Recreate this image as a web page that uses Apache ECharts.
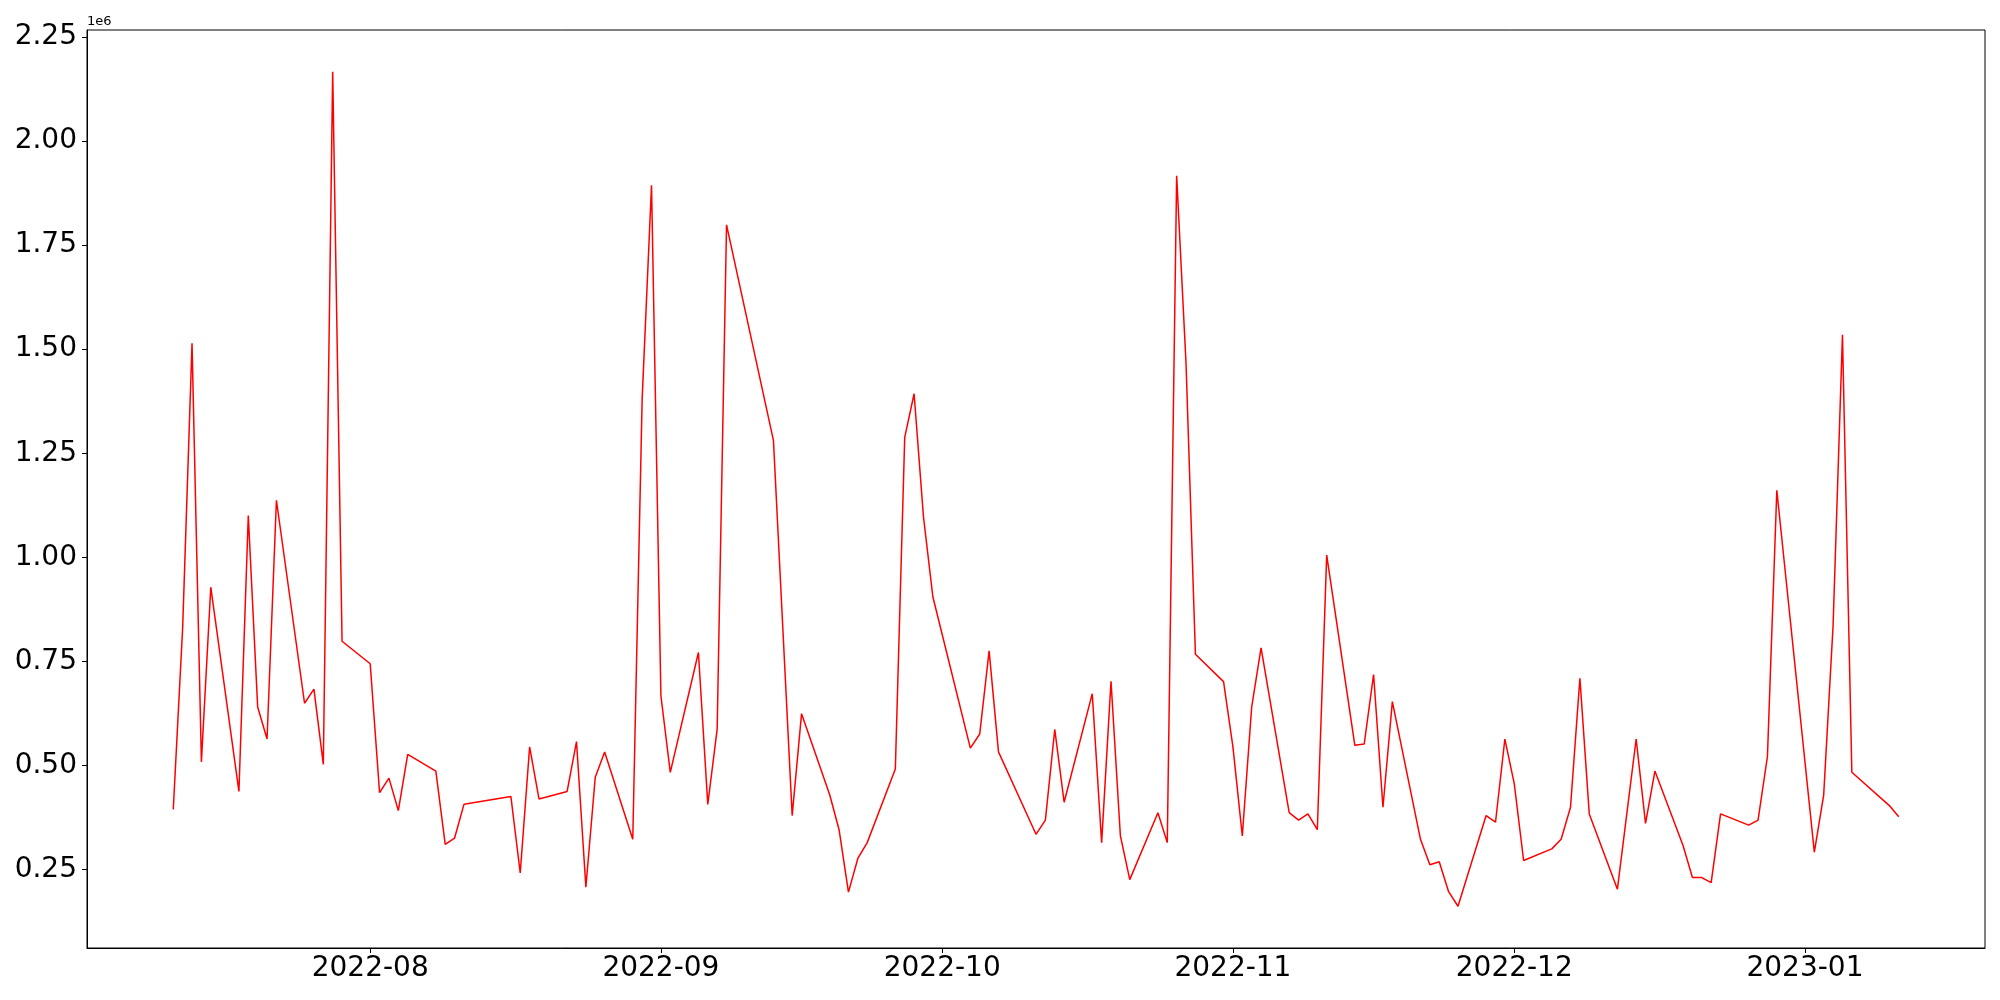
<!DOCTYPE html>
<html>
<head>
<meta charset="utf-8">
<script src="https://cdn.jsdelivr.net/npm/echarts@6/dist/echarts.min.js"></script>
<style>
html,body{margin:0;padding:0;background:#fff;}
#chart{width:2000px;height:1000px;}
</style>
</head>
<body>
<div id="chart"></div>
<script>
const dates = [
"2022-07-11","2022-07-12","2022-07-13","2022-07-14","2022-07-15",
"2022-07-18","2022-07-19","2022-07-20","2022-07-21","2022-07-22",
"2022-07-25","2022-07-26","2022-07-27","2022-07-28","2022-07-29",
"2022-08-01","2022-08-02","2022-08-03","2022-08-04","2022-08-05",
"2022-08-08","2022-08-09","2022-08-10","2022-08-11",
"2022-08-16","2022-08-17","2022-08-18","2022-08-19",
"2022-08-22","2022-08-23","2022-08-24","2022-08-25","2022-08-26",
"2022-08-29","2022-08-30","2022-08-31","2022-09-01","2022-09-02",
"2022-09-05","2022-09-06","2022-09-07","2022-09-08",
"2022-09-13","2022-09-15","2022-09-16",
"2022-09-19","2022-09-20","2022-09-21","2022-09-22","2022-09-23",
"2022-09-26","2022-09-27","2022-09-28","2022-09-29","2022-09-30",
"2022-10-04","2022-10-05","2022-10-06","2022-10-07",
"2022-10-11","2022-10-12","2022-10-13","2022-10-14",
"2022-10-17","2022-10-18","2022-10-19","2022-10-20","2022-10-21",
"2022-10-24","2022-10-25","2022-10-26","2022-10-27","2022-10-28",
"2022-10-31","2022-11-01","2022-11-02","2022-11-03","2022-11-04",
"2022-11-07","2022-11-08","2022-11-09","2022-11-10","2022-11-11",
"2022-11-14","2022-11-15","2022-11-16","2022-11-17","2022-11-18",
"2022-11-21","2022-11-22","2022-11-23","2022-11-24","2022-11-25",
"2022-11-28","2022-11-29","2022-11-30","2022-12-01","2022-12-02",
"2022-12-05","2022-12-06","2022-12-07","2022-12-08","2022-12-09",
"2022-12-12","2022-12-14","2022-12-15","2022-12-16",
"2022-12-19","2022-12-20","2022-12-21","2022-12-22","2022-12-23",
"2022-12-26","2022-12-27","2022-12-28","2022-12-29",
"2023-01-02","2023-01-03","2023-01-04","2023-01-05","2023-01-06",
"2023-01-10","2023-01-11"
];
const values = [
394000,830000,1514000,508000,928000,
437000,1100000,640000,563000,1137000,
649000,683000,502000,2167000,798000,
744000,434000,469000,391000,526000,
486000,310000,325000,406000,
425000,241000,544000,419000,
437000,557000,207000,471000,532000,
322000,1380000,1894000,667000,483000,
771000,406000,587000,1799000,
1281000,379000,624000,
429000,345000,195000,276000,314000,
491000,1288000,1393000,1097000,905000,
541000,575000,775000,532000,
334000,368000,586000,411000,
672000,314000,702000,330000,225000,
386000,314000,1917000,1465000,767000,
701000,544000,330000,640000,782000,
386000,368000,383000,345000,1005000,
548000,551000,718000,399000,653000,
322000,261000,268000,196000,161000,
379000,363000,563000,456000,271000,
299000,322000,399000,709000,383000,
202000,563000,360000,486000,
307000,230000,230000,218000,383000,
356000,368000,521000,1161000,
291000,429000,836000,1535000,483000,
403000,376000
];
const yTicks = [250000,500000,750000,1000000,1250000,1500000,1750000,2000000,2250000];
const xTickLabels = ["2022-08","2022-09","2022-10","2022-11","2022-12","2023-01"];

function toTs(s){ const p=s.split('-').map(Number); return Date.UTC(p[0],p[1]-1,p[2]||1); }
const xTicks = xTickLabels.map(toTs);
const seriesData = dates.map((d,i)=>[toTs(d), values[i]]);

const t0 = toTs(dates[0]), t1 = toTs(dates[dates.length-1]);
const tSpan = t1 - t0;
const vMin = Math.min(...values), vMax = Math.max(...values);
const vSpan = vMax - vMin;

const font = 'DejaVu Sans';
const chart = echarts.init(document.getElementById('chart'), null, {renderer:'canvas'});
chart.setOption({
  animation:false,
  backgroundColor:'#fff',
  grid:{left:87, right:15, top:30, bottom:52, show:true, borderColor:'#000', borderWidth:1, containLabel:false},
  xAxis:{
    type:'value',
    min:t0 - 0.05*tSpan,
    max:t1 + 0.05*tSpan,
    scale:true,
    splitLine:{show:false},
    axisLine:{show:true, lineStyle:{color:'#000', width:1}},
    axisTick:{show:true, length:5, lineStyle:{color:'#000', width:1}, customValues:xTicks},
    axisLabel:{
      customValues:xTicks,
      color:'#000', fontFamily:font, fontSize:28, margin:7,
      formatter:function(v){ const d=new Date(v); return d.getUTCFullYear()+'-'+String(d.getUTCMonth()+1).padStart(2,'0'); }
    }
  },
  yAxis:{
    type:'value',
    min:vMin - 0.05*vSpan,
    max:vMax + 0.05*vSpan,
    scale:true,
    splitLine:{show:false},
    axisLine:{show:true, lineStyle:{color:'#000', width:1}},
    axisTick:{show:true, length:5, lineStyle:{color:'#000', width:1}, customValues:yTicks},
    axisLabel:{
      customValues:yTicks,
      color:'#000', fontFamily:font, fontSize:28, margin:10,
      formatter:function(v){ return (v/1e6).toFixed(2); }
    }
  },
  graphic:[{
    type:'text', left:87, top:15,
    style:{text:'1e6', fill:'#000', font:'13px "DejaVu Sans"'}
  }],
  series:[{
    type:'line',
    data:seriesData,
    showSymbol:false,
    symbol:'none',
    lineStyle:{color:'#ff0000', width:1.5},
    emphasis:{disabled:true}
  }]
});
</script>
</body>
</html>
